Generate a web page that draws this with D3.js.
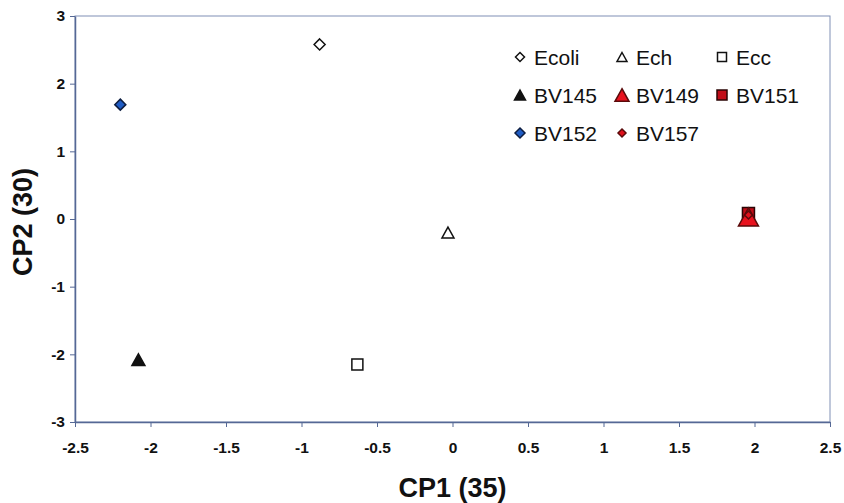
<!DOCTYPE html>
<html>
<head>
<meta charset="utf-8">
<script src="https://cdn.jsdelivr.net/npm/d3@7"></script>
<style>
  body { margin: 0; background: #fff; }
  svg { display: block; font-family: "Liberation Sans", Arial, sans-serif; }
</style>
</head>
<body>
<div id="chart"></div>
<script>
// ========================
// Data
// ========================
const seriesNames = ["Ecoli", "Ech", "Ecc", "BV145", "BV149", "BV151", "BV152", "BV157"];
const cp1Values = [-0.88, -0.03, -0.63, -2.08, 1.96, 1.96, -2.20, 1.96];
const cp2Values = [2.58, -0.20, -2.15, -2.08, 0.03, 0.08, 1.69, 0.06];
const xTicks = [-2.5, -2, -1.5, -1, -0.5, 0, 0.5, 1, 1.5, 2, 2.5];
const yTicks = [-3, -2, -1, 0, 1, 2, 3];

// marker styles per series (same order as seriesNames)
const shapes = ["diamond", "triangle", "square", "triangle", "triangle", "square", "diamond", "diamond"];
const fills = ["#fff", "#fff", "#fff", "#111", "#e8121e", "#c00d18", "#1f5cc4", "#e0101c"];
const strokes = ["#111", "#111", "#111", "#111", "#5a0a0a", "#2a0404", "#0d1d40", "#5a0a0a"];
const plotSizes = [11, 12, 11, 13, 20, 12, 11, 8];
const legendSizes = [9, 10, 9, 11, 14, 10, 10, 8];
// drawing order (square of BV151 sits behind the BV149 triangle)
const drawOrder = [0, 1, 2, 3, 5, 4, 6, 7];

// ========================
// Setup
// ========================
const width = 844, height = 503;
const margin = { top: 16, right: 14, bottom: 81, left: 75 };
const axisColor = "#556895";

const svg = d3.select("#chart").append("svg")
    .attr("width", width)
    .attr("height", height);

svg.append("rect").attr("width", width).attr("height", height).attr("fill", "#fff");

const x = d3.scaleLinear().domain([-2.5, 2.5]).range([margin.left, width - margin.right]);
const y = d3.scaleLinear().domain([-3, 3]).range([height - margin.bottom, margin.top]);

// marker path, centred on the bounding box
function markerPath(shape, s) {
    const h = s / 2;
    if (shape === "diamond") return `M0,${-h}L${h},0L0,${h}L${-h},0Z`;
    if (shape === "square") return `M${-h},${-h}H${h}V${h}H${-h}Z`;
    const th = s * 0.9 / 2;
    return `M0,${-th}L${h},${th}L${-h},${th}Z`;
}

// ========================
// Frame + axes
// ========================
svg.append("rect")
    .attr("x", x(-2.5)).attr("y", y(3))
    .attr("width", x(2.5) - x(-2.5)).attr("height", y(-3) - y(3))
    .attr("fill", "none")
    .attr("stroke", "#8090b5")
    .attr("stroke-width", 1);

const xAxis = svg.append("g")
    .attr("transform", `translate(0,${y(-3)})`)
    .call(d3.axisBottom(x).tickValues(xTicks).tickSize(5).tickSizeOuter(0)
        .tickFormat(d => String(d)));

const yAxis = svg.append("g")
    .attr("transform", `translate(${x(-2.5)},0)`)
    .call(d3.axisLeft(y).tickValues(yTicks).tickSize(5).tickSizeOuter(0)
        .tickFormat(d => String(d)));

[xAxis, yAxis].forEach(g => {
    g.select(".domain").attr("stroke", axisColor).attr("stroke-width", 1.5);
    g.selectAll(".tick line").attr("stroke", axisColor);
    g.selectAll(".tick text")
        .attr("fill", "#111")
        .style("font-size", "15.5px")
        .style("font-weight", "bold")
        .style("font-family", "'Liberation Sans', Arial, sans-serif");
});
xAxis.selectAll(".tick text").attr("dy", "0").attr("y", 31);
yAxis.selectAll(".tick text").attr("x", -10);

// Axis titles
svg.append("text")
    .attr("x", (x(-2.5) + x(2.5)) / 2)
    .attr("y", 497)
    .attr("text-anchor", "middle")
    .style("font-size", "27px")
    .style("font-weight", "bold")
    .attr("fill", "#111")
    .text("CP1 (35)");

svg.append("text")
    .attr("transform", `translate(32,${(y(3) + y(-3)) / 2 + 3}) rotate(-90)`)
    .attr("text-anchor", "middle")
    .style("font-size", "27px")
    .style("font-weight", "bold")
    .attr("fill", "#111")
    .text("CP2 (30)");

// ========================
// Points
// ========================
svg.append("g").selectAll("path")
    .data(drawOrder.map(i => ({ name: seriesNames[i], i })))
    .join("path")
    .attr("transform", d => `translate(${x(cp1Values[d.i])},${y(cp2Values[d.i])})`)
    .attr("d", d => markerPath(shapes[d.i], plotSizes[d.i]))
    .attr("fill", d => fills[d.i])
    .attr("stroke", d => strokes[d.i])
    .attr("stroke-width", 1.5);

// ========================
// Legend
// ========================
const legendCols = [520, 622, 722];
const legendRows = [57, 95, 133];

const legendItems = svg.append("g").selectAll("g")
    .data(seriesNames.map((name, i) => ({ name, i })))
    .join("g")
    .attr("transform", d => `translate(${legendCols[d.i % 3]},${legendRows[Math.floor(d.i / 3)]})`);

legendItems.append("path")
    .attr("d", d => markerPath(shapes[d.i], legendSizes[d.i]))
    .attr("fill", d => fills[d.i])
    .attr("stroke", d => strokes[d.i])
    .attr("stroke-width", 1.5);

legendItems.append("text")
    .attr("x", 14)
    .attr("dy", "0.36em")
    .style("font-size", "21px")
    .attr("fill", "#111")
    .text(d => d.name);
</script>
</body>
</html>
